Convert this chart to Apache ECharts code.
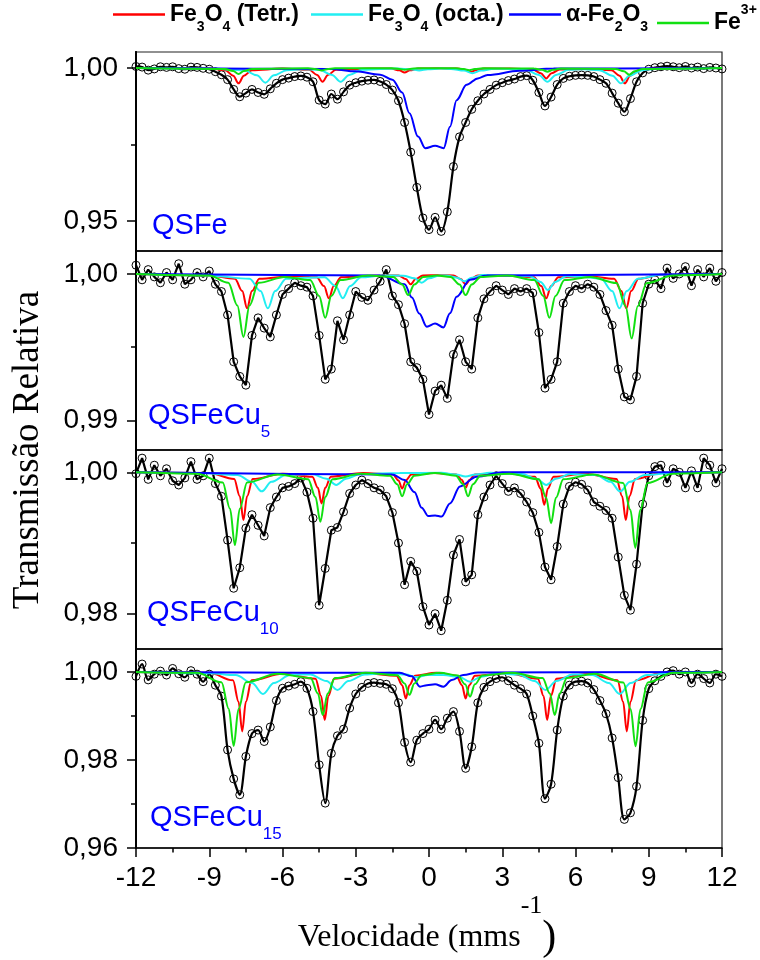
<!DOCTYPE html>
<html><head><meta charset="utf-8">
<script src="https://cdn.jsdelivr.net/npm/echarts@6/dist/echarts.min.js"></script>
<style>html,body{margin:0;padding:0;background:#fff}#c{width:760px;height:960px}</style>
</head><body><div id="c"></div>
<script>
// Velocity channels (mm/s)
const velocity = [-12,-11.75,-11.5,-11.25,-11,-10.75,-10.5,-10.25,-10,-9.75,-9.5,-9.25,
-9,-8.75,-8.5,-8.25,-8,-7.75,-7.5,-7.25,-7,-6.75,-6.5,-6.25,
-6,-5.75,-5.5,-5.25,-5,-4.75,-4.5,-4.25,-4,-3.75,-3.5,-3.25,
-3,-2.75,-2.5,-2.25,-2,-1.75,-1.5,-1.25,-1,-0.75,-0.5,-0.25,
0,0.25,0.5,0.75,1,1.25,1.5,1.75,2,2.25,2.5,2.75,
3,3.25,3.5,3.75,4,4.25,4.5,4.75,5,5.25,5.5,5.75,
6,6.25,6.5,6.75,7,7.25,7.5,7.75,8,8.25,8.5,8.75,
9,9.25,9.5,9.75,10,10.25,10.5,10.75,11,11.25,11.5,11.75,
12];

// Experimental relative transmission
const transQSFe = [1.0005,1.0003,0.9993,0.9997,1.0004,1.0002,1.0004,0.9998,0.9996,1.0003,1.0002,0.9999,
0.9996,0.9988,0.9978,0.9962,0.9930,0.9906,0.9918,0.9930,0.9920,0.9914,0.9932,0.9950,
0.9962,0.9967,0.9972,0.9974,0.9970,0.9955,0.9895,0.9882,0.9915,0.9898,0.9922,0.9944,
0.9952,0.9957,0.9960,0.9961,0.9956,0.9946,0.9928,0.9893,0.9822,0.9725,0.9610,0.9510,
0.9472,0.9512,0.9466,0.9530,0.9678,0.9775,0.9822,0.9865,0.9893,0.9915,0.9930,0.9944,
0.9952,0.9959,0.9964,0.9972,0.9975,0.9960,0.9920,0.9876,0.9905,0.9946,0.9966,0.9973,
0.9976,0.9977,0.9976,0.9972,0.9962,0.9950,0.9918,0.9885,0.9857,0.9900,0.9955,0.9984,
0.9996,1.0001,1.0004,1.0006,1.0004,1.0001,1.0005,1.0000,1.0003,0.9998,1.0002,1.0000,
0.9997];
const transQSFeCu5 = [1.0006,0.9996,1.0003,0.9998,0.9994,1.0001,0.9996,1.0007,0.9993,0.9996,1.0001,0.9998,
1.0002,0.9993,0.9988,0.9972,0.9940,0.9930,0.9924,0.9958,0.9970,0.9963,0.9957,0.9972,
0.9986,0.9990,0.9994,0.9992,0.9991,0.9985,0.9958,0.9928,0.9935,0.9968,0.9955,0.9972,
0.9988,0.9984,0.9982,0.9989,0.9995,1.0003,0.9985,0.9979,0.9966,0.9940,0.9936,0.9928,
0.9904,0.9920,0.9924,0.9915,0.9945,0.9955,0.9940,0.9935,0.9970,0.9983,0.9988,0.9992,
0.9989,0.9986,0.9990,0.9988,0.9990,0.9987,0.9960,0.9922,0.9928,0.9940,0.9980,0.9988,
0.9992,0.9990,0.9993,0.9991,0.9986,0.9975,0.9965,0.9935,0.9916,0.9914,0.9930,0.9980,
0.9993,0.9996,0.9990,1.0004,0.9997,1.0000,1.0005,0.9992,1.0003,0.9998,1.0004,0.9995,
1.0001];
const transQSFeCu10 = [0.9998,1.0020,0.9990,1.0010,0.9995,1.0005,0.9988,0.9982,0.9992,1.0015,0.9990,0.9995,
1.0020,0.9984,0.9966,0.9904,0.9836,0.9865,0.9921,0.9940,0.9925,0.9910,0.9950,0.9965,
0.9978,0.9980,0.9984,0.9992,0.9972,0.9935,0.9812,0.9864,0.9918,0.9922,0.9944,0.9970,
0.9982,0.9989,0.9984,0.9978,0.9975,0.9966,0.9943,0.9900,0.9841,0.9874,0.9860,0.9810,
0.9784,0.9800,0.9776,0.9819,0.9883,0.9905,0.9845,0.9855,0.9940,0.9965,0.9982,0.9995,
0.9984,0.9973,0.9978,0.9970,0.9958,0.9943,0.9915,0.9866,0.9848,0.9895,0.9955,0.9980,
0.9986,0.9983,0.9975,0.9958,0.9952,0.9946,0.9935,0.9880,0.9826,0.9805,0.9870,0.9955,
0.9995,1.0008,1.0010,0.9985,1.0005,1.0000,0.9978,1.0002,0.9978,1.0020,1.0010,0.9985,
1.0005];
const transQSFeCu15 = [0.9990,1.0018,0.9982,0.9995,1.0002,0.9993,1.0008,0.9996,0.9988,1.0003,0.9995,0.9978,
0.9995,0.9970,0.9945,0.9823,0.9757,0.9721,0.9808,0.9860,0.9868,0.9842,0.9875,0.9935,
0.9963,0.9968,0.9972,0.9978,0.9963,0.9910,0.9789,0.9702,0.9815,0.9855,0.9870,0.9918,
0.9950,0.9965,0.9974,0.9976,0.9974,0.9972,0.9962,0.9930,0.9840,0.9795,0.9845,0.9860,
0.9870,0.9891,0.9870,0.9895,0.9910,0.9865,0.9781,0.9830,0.9930,0.9965,0.9978,0.9985,
0.9988,0.9980,0.9970,0.9962,0.9950,0.9900,0.9838,0.9712,0.9745,0.9868,0.9945,0.9970,
0.9978,0.9979,0.9975,0.9960,0.9935,0.9905,0.9850,0.9760,0.9665,0.9680,0.9740,0.9890,
0.9962,0.9980,0.9990,1.0000,1.0003,0.9995,1.0000,0.9975,0.9995,0.9985,0.9975,0.9995,
0.9990];

// Fitted sub-spectra, [velocity, transmission]
const tetrQSFe = [[-12,1],[-9,0.9999],[-8.35,0.9993],[-8.02,0.9975],[-7.8,0.995],[-7.58,0.9975],[-7.25,0.9993],[-6,0.9998],[-4.91,0.9994],[-4.58,0.99775],[-4.36,0.9955],[-4.14,0.99775],[-3.81,0.9994],[-2.5,0.9998],[-1.55,0.9998],[-1.22,0.99925],[-1.0,0.9985],[-0.78,0.99925],[-0.45,0.9998],[0.4,0.9999],[1.17,0.9998],[1.5,0.99935],[1.72,0.9987],[1.94,0.99935],[2.27,0.9998],[3.3,0.9998],[4.25,0.9995],[4.58,0.9983],[4.8,0.9966],[5.02,0.9983],[5.35,0.9995],[6.4,0.9997],[7.47,0.9993],[7.8,0.9975],[8.02,0.995],[8.24,0.9975],[8.57,0.9993],[9.3,0.9999],[12,1]];
const octaQSFe = [[-12,1],[-9,0.9998],[-7.58,0.9993],[-7.05,0.9976],[-6.7,0.9952],[-6.35,0.9976],[-5.82,0.9993],[-5.2,0.9996],[-4.5,0.9994],[-3.97,0.99775],[-3.62,0.9955],[-3.27,0.99775],[-2.74,0.9994],[-2,0.9997],[-1.28,0.9998],[-0.75,0.9996],[-0.4,0.9992],[-0.05,0.9996],[0.48,0.9998],[0.9,0.9997],[1.43,0.99915],[1.78,0.9983],[2.13,0.99915],[2.66,0.99975],[3.3,0.9997],[3.97,0.9994],[4.5,0.99775],[4.85,0.9955],[5.2,0.99775],[5.73,0.9994],[6.35,0.9996],[6.98,0.9993],[7.51,0.9975],[7.86,0.995],[8.21,0.9975],[8.74,0.9993],[9.5,0.9998],[12,1]];
const alphaQSFe = [[-12,1],[-4,0.9997],[-3,0.9989],[-2,0.9978],[-1.5,0.9962],[-1.1,0.992],[-0.8,0.9852],[-0.45,0.9776],[-0.15,0.9738],[0.25,0.9746],[0.6,0.9738],[0.86,0.9808],[1.13,0.9895],[1.54,0.9945],[2.0,0.9966],[2.4,0.9977],[3.7,0.9991],[5.1,0.9998],[12,1]];
const fe3QSFe = [[-12,1],[-8.35,0.9997],[-8.02,0.999],[-7.8,0.998],[-7.58,0.999],[-7.25,0.9997],[-4.95,0.9999],[-4.62,0.9996],[-4.4,0.9992],[-4.18,0.9996],[-3.85,0.9999],[-1.55,0.9999],[-1.22,0.9997],[-1.0,0.9994],[-0.78,0.9997],[-0.45,0.9999],[1.1,0.9999],[1.43,0.99965],[1.65,0.9993],[1.87,0.99965],[2.2,0.9999],[4.3,0.9998],[4.63,0.9994],[4.85,0.9988],[5.07,0.9994],[5.4,0.9998],[7.65,0.9997],[7.98,0.9989],[8.2,0.9978],[8.42,0.9989],[8.75,0.9997],[12,1]];

const tetrQSFeCu5 = [[-12,1],[-9,0.9999],[-7.95,0.99967],[-7.65,0.99883],[-7.45,0.99765],[-7.25,0.99883],[-6.95,0.99967],[-5.6,0.99985],[-4.6,0.99977],[-4.3,0.99917],[-4.1,0.99834],[-3.9,0.99917],[-3.6,0.99977],[-2.2,0.99988],[-1.25,0.9999],[-0.95,0.99965],[-0.75,0.9993],[-0.55,0.99965],[-0.25,0.9999],[0.4,0.99992],[1.0,0.9999],[1.3,0.99965],[1.5,0.9993],[1.7,0.99965],[2.0,0.9999],[3.2,0.99988],[4.3,0.99977],[4.6,0.99917],[4.8,0.99834],[5.0,0.99917],[5.3,0.99977],[6.5,0.99985],[7.58,0.99967],[7.88,0.99883],[8.08,0.99765],[8.28,0.99883],[8.58,0.99967],[9.5,0.99995],[12,1]];
const octaQSFeCu5 = [[-12,1],[-9,0.9999],[-7.35,0.99967],[-6.9,0.99883],[-6.6,0.99765],[-6.3,0.99883],[-5.85,0.99967],[-5.1,0.99975],[-4.28,0.99977],[-3.83,0.99917],[-3.53,0.99834],[-3.23,0.99917],[-2.78,0.99977],[-1.9,0.9999],[-1.05,0.99988],[-0.6,0.9997],[-0.3,0.9994],[0.0,0.9997],[0.45,0.9999],[0.7,0.9999],[1.15,0.99975],[1.45,0.9995],[1.75,0.99975],[2.2,0.99993],[3.2,0.9999],[4.12,0.99985],[4.57,0.99945],[4.87,0.9989],[5.17,0.99945],[5.62,0.99985],[6.3,0.9998],[7.05,0.99967],[7.5,0.99883],[7.8,0.99765],[8.1,0.99883],[8.55,0.99967],[9.5,0.99995],[12,1]];
const alphaQSFeCu5 = [[-12,1],[-2,0.9999],[-1.0,0.9993],[-0.7,0.9984],[-0.4,0.9973],[-0.09,0.9964],[0.25,0.99662],[0.59,0.99635],[0.86,0.99731],[1.13,0.99845],[1.68,0.9996],[2.36,0.9999],[12,1]];
const fe3QSFeCu5 = [[-12,1],[-9,0.9999],[-8.22,0.9994],[-7.85,0.99785],[-7.6,0.9957],[-7.35,0.99785],[-6.98,0.9994],[-5.9,0.9998],[-4.87,0.99958],[-4.5,0.9985],[-4.25,0.997],[-4.0,0.9985],[-3.63,0.99958],[-2.5,0.9999],[-1.47,0.9998],[-1.1,0.99928],[-0.85,0.99856],[-0.6,0.99928],[-0.23,0.9998],[0.33,0.9999],[0.88,0.9998],[1.25,0.99928],[1.5,0.99856],[1.75,0.99928],[2.12,0.9998],[3.2,0.9999],[4.31,0.99958],[4.68,0.9985],[4.93,0.997],[5.18,0.9985],[5.55,0.99958],[6.6,0.9998],[7.68,0.99938],[8.05,0.9978],[8.3,0.9956],[8.55,0.9978],[8.92,0.99938],[10,0.9999],[12,1]];

const tetrQSFeCu10 = [[-12,1],[-9,0.9999],[-7.98,0.99905],[-7.75,0.99662],[-7.6,0.99325],[-7.45,0.99662],[-7.22,0.99905],[-6,0.9998],[-4.78,0.99938],[-4.55,0.9978],[-4.4,0.9956],[-4.25,0.9978],[-4.02,0.99938],[-2.7,0.9999],[-1.48,0.99968],[-1.25,0.99885],[-1.1,0.9977],[-0.95,0.99885],[-0.72,0.99968],[0.2,0.9999],[1.12,0.9997],[1.35,0.9989],[1.5,0.9978],[1.65,0.9989],[1.88,0.9997],[3.1,0.9999],[4.34,0.99936],[4.57,0.9977],[4.72,0.9954],[4.87,0.9977],[5.1,0.99936],[6.4,0.9998],[7.68,0.99905],[7.91,0.99662],[8.06,0.99325],[8.21,0.99662],[8.44,0.99905],[9.5,0.9999],[12,1]];
const octaQSFeCu10 = [[-12,1],[-9.5,0.9999],[-7.85,0.99962],[-7.25,0.99865],[-6.85,0.9973],[-6.45,0.99865],[-5.85,0.99962],[-5.3,0.9997],[-4.8,0.99975],[-4.2,0.9991],[-3.8,0.9982],[-3.4,0.9991],[-2.8,0.99975],[-1.2,0.9999],[0.5,0.99992],[1.1,0.9997],[1.5,0.9994],[1.9,0.9997],[2.5,0.99992],[3.8,0.99975],[4.4,0.9991],[4.8,0.9982],[5.2,0.9991],[5.8,0.99975],[6.3,0.9997],[6.83,0.99962],[7.43,0.99865],[7.83,0.9973],[8.23,0.99865],[8.83,0.99962],[10,0.9999],[12,1]];
const alphaQSFeCu10 = [[-12,1],[-1.5,0.9997],[-1.0,0.9989],[-0.6,0.9972],[-0.3,0.995],[-0.03,0.9938],[0.25,0.9939],[0.52,0.99375],[0.86,0.9956],[1.27,0.998],[1.95,0.99938],[3,1],[12,1]];
const fe3QSFeCu10 = [[-12,1],[-9.5,0.9998],[-8.45,0.99856],[-8.15,0.99485],[-7.95,0.9897],[-7.75,0.99485],[-7.45,0.99856],[-6.2,0.9997],[-4.95,0.99902],[-4.65,0.9965],[-4.45,0.993],[-4.25,0.9965],[-3.95,0.99902],[-2.8,0.9998],[-1.6,0.99952],[-1.3,0.9983],[-1.1,0.9966],[-0.9,0.9983],[-0.6,0.99952],[0.25,0.9999],[1.1,0.99952],[1.4,0.9983],[1.6,0.9966],[1.8,0.9983],[2.1,0.99952],[3.3,0.9998],[4.5,0.999],[4.8,0.9964],[5.0,0.9928],[5.2,0.9964],[5.5,0.999],[6.7,0.9997],[7.95,0.9985],[8.25,0.99465],[8.45,0.9893],[8.65,0.99465],[8.95,0.9985],[10,0.9998],[12,1]];

const tetrQSFeCu15 = [[-12,1],[-9,0.9998],[-8.03,0.9981],[-7.8,0.99325],[-7.65,0.9865],[-7.5,0.99325],[-7.27,0.9981],[-6,0.9996],[-4.65,0.99847],[-4.42,0.99455],[-4.27,0.9891],[-4.12,0.99455],[-3.89,0.99847],[-2.6,0.9997],[-1.33,0.99916],[-1.1,0.997],[-0.95,0.994],[-0.8,0.997],[-0.57,0.99916],[0.3,0.9998],[1.12,0.99916],[1.35,0.997],[1.5,0.994],[1.65,0.997],[1.88,0.99916],[3.2,0.9997],[4.46,0.99847],[4.69,0.99455],[4.84,0.9891],[4.99,0.99455],[5.22,0.99847],[6.5,0.9996],[7.72,0.9981],[7.95,0.99325],[8.1,0.9865],[8.25,0.99325],[8.48,0.9981],[9.5,0.9998],[12,1]];
const octaQSFeCu15 = [[-12,1],[-9,0.9997],[-7.92,0.9993],[-7.25,0.9975],[-6.8,0.995],[-6.35,0.9975],[-5.68,0.9993],[-5.3,0.9994],[-4.87,0.99943],[-4.2,0.99795],[-3.75,0.9959],[-3.3,0.99795],[-2.63,0.99943],[-1.62,0.9998],[-0.95,0.9994],[-0.5,0.9988],[-0.05,0.9993],[0.6,0.9993],[1.23,0.9989],[1.68,0.9978],[2.13,0.9989],[2.8,0.9997],[3.65,0.99943],[4.32,0.99795],[4.77,0.9959],[5.22,0.99795],[5.89,0.99943],[6.3,0.9994],[6.69,0.9993],[7.36,0.9975],[7.81,0.995],[8.26,0.9975],[8.93,0.9993],[10,0.9998],[12,1]];
const alphaQSFeCu15 = [[-12,1],[-1.2,0.9998],[-0.7,0.999],[-0.37,0.99667],[-0.09,0.997],[0.25,0.9972],[0.59,0.99667],[0.93,0.9982],[1.4,0.9993],[2.0,0.9999],[12,1]];
const fe3QSFeCu15 = [[-12,1],[-9.5,0.9998],[-8.5,0.99765],[-8.2,0.9916],[-8.0,0.9832],[-7.8,0.9916],[-7.5,0.99765],[-6.2,0.9996],[-4.85,0.99863],[-4.55,0.9951],[-4.35,0.9902],[-4.15,0.9951],[-3.85,0.99863],[-2.6,0.9998],[-1.3,0.99927],[-1.0,0.9974],[-0.8,0.9948],[-0.6,0.9974],[-0.3,0.99927],[0.45,0.9998],[1.18,0.99922],[1.48,0.9972],[1.68,0.9944],[1.88,0.9972],[2.18,0.99922],[3.4,0.9998],[4.65,0.99863],[4.95,0.9951],[5.15,0.9902],[5.35,0.9951],[5.65,0.99863],[6.8,0.9996],[7.96,0.99763],[8.26,0.99155],[8.46,0.9831],[8.66,0.99155],[8.96,0.99763],[10,0.9998],[12,1]];

// Labels and ticks
const componentNames = ['Fe3O4 (Tetr.)','Fe3O4 (octa.)','α-Fe2O3','Fe3+'];
const componentLabels = ['{m|Fe}{s|3}{m|O}{s|4}{m| (Tetr.)}','{m|Fe}{s|3}{m|O}{s|4}{m| (octa.)}','{m|α-Fe}{s|2}{m|O}{s|3}','{m|Fe}{p|3+}'];
const sampleLabels = ['{m|QSFe}','{m|QSFeCu}{s|5}','{m|QSFeCu}{s|10}','{m|QSFeCu}{s|15}'];
const yMajorTicks = [[1.00,0.95],[1.00,0.99],[1.00,0.98],[1.00,0.98,0.96]];
const yMinorTicks = [[0.975],[0.995],[0.99],[0.99,0.97]];
const xTitle = '{a|Velocidade (mms}{b|-1}{c|)}';
const yTitle = 'Transmissão Relativa';

const expData = [transQSFe, transQSFeCu5, transQSFeCu10, transQSFeCu15];
const compData = [
  [tetrQSFe, octaQSFe, alphaQSFe, fe3QSFe],
  [tetrQSFeCu5, octaQSFeCu5, alphaQSFeCu5, fe3QSFeCu5],
  [tetrQSFeCu10, octaQSFeCu10, alphaQSFeCu10, fe3QSFeCu10],
  [tetrQSFeCu15, octaQSFeCu15, alphaQSFeCu15, fe3QSFeCu15]
];

// Layout / style
const compColors = ['#ff0000','#22eef2','#0000ff','#11e011'];
const gridTops = [52, 251, 450, 649];
const gridH = 199;
const yRanges = [[0.9402,1.00523],[0.98797,1.00157],[0.97501,1.00315],[0.96,1.00522]];
const labelPos = [[152,226],[148,416],[147,613],[150,818]];
const SANS = '"Liberation Sans", Arial, sans-serif';
const SERIF = '"Liberation Serif", "Times New Roman", serif';
const fmtComma = v => v.toFixed(2).replace('.', ',');

const grids = gridTops.map(t => ({left:136, right:38, top:t, height:gridH, show:true, borderColor:'#222', borderWidth:1.2, outerBoundsMode:'none', containLabel:false}));

const xAxes = gridTops.map((t,i) => {
  const bottom = i === 3;
  return {
    type:'value', gridIndex:i, min:-12, max:12, interval:3,
    axisLine:{show:true, onZero:false, lineStyle:{color:'#000', width:1.5}},
    axisTick:{show:bottom, length:9, inside:false, lineStyle:{color:'#000', width:1.5}},
    minorTick:{show:bottom, splitNumber:2, length:4.5, lineStyle:{color:'#000', width:1.5}},
    axisLabel:{show:bottom, fontSize:28, fontFamily:SANS, color:'#000', margin:16, showMinLabel:true, showMaxLabel:true},
    splitLine:{show:false}, minorSplitLine:{show:false}
  };
});

const yAxes = [];
gridTops.forEach((t,i) => {
  yAxes.push({
    type:'value', gridIndex:i, position:'left', min:yRanges[i][0], max:yRanges[i][1],
    axisLine:{show:true, onZero:false, lineStyle:{color:'#000', width:1.8}},
    axisTick:{show:true, length:9, inside:false, customValues:yMajorTicks[i], lineStyle:{color:'#000', width:1.5}},
    axisLabel:{show:true, customValues:yMajorTicks[i], formatter:fmtComma, fontSize:28, fontFamily:SANS, color:'#000', margin:18},
    splitLine:{show:false}
  });
  yAxes.push({
    type:'value', gridIndex:i, position:'left', offset:0, min:yRanges[i][0], max:yRanges[i][1],
    axisLine:{show:true, onZero:false, lineStyle:{color:'#000', width:1.8}},
    axisTick:{show:true, length:5, inside:false, customValues:yMinorTicks[i], lineStyle:{color:'#000', width:1.5}},
    axisLabel:{show:false},
    splitLine:{show:false}
  });
});

const series = [];
expData.forEach((arr,i) => {
  series.push({
    type:'line', name:'exp'+i, xAxisIndex:i, yAxisIndex:2*i,
    data: velocity.map((v,k) => [v, arr[k]]),
    symbol:'circle', symbolSize:8, showSymbol:true,
    smooth: (i===0 || i===3) ? 0.3 : false,
    itemStyle:{color:'rgba(0,0,0,0)', borderColor:'#000', borderWidth:1},
    lineStyle:{color:'#000', width:2.2},
    z:2
  });
});
compData.forEach((comps,i) => {
  comps.forEach((pts,j) => {
    series.push({
      type:'line', name:componentNames[j], xAxisIndex:i, yAxisIndex:2*i,
      data: pts, symbol:'none', smooth:0.35, smoothMonotone:'x',
      color: compColors[j],
      lineStyle:{color:compColors[j], width:2},
      z:3
    });
  });
});

const legendLeft = [113, 311, 509, 657];
const legends = componentNames.map((n,j) => ({
  left: legendLeft[j], top: 3, padding: 0, orient:'horizontal',
  data:[{name:n, icon:'rect'}], selectedMode:false, itemWidth:52, itemHeight:2.5,
  itemStyle:{color:compColors[j], borderWidth:0},
  formatter: () => componentLabels[j],
  textStyle:{color:'#000', fontFamily:SANS, fontWeight:'bold', fontSize:23,
    rich:{
      m:{fontSize:23, fontWeight:'bold', fontFamily:SANS, lineHeight:40},
      s:{fontSize:14, fontWeight:'bold', fontFamily:SANS, lineHeight:14, verticalAlign:'bottom'},
      p:{fontSize:14, fontWeight:'bold', fontFamily:SANS, lineHeight:14, verticalAlign:'top'}
    }}
}));

const graphics = sampleLabels.map((txt,i) => ({
  type:'text', x:labelPos[i][0], y:labelPos[i][1], z:10,
  style:{text:txt, fill:'#0000ff', fontSize:29, fontFamily:SANS, align:'left', verticalAlign:'middle',
    rich:{m:{fontSize:29, fontFamily:SANS, lineHeight:50, fill:'#0000ff'},
          s:{fontSize:17, fontFamily:SANS, lineHeight:17, verticalAlign:'bottom', fill:'#0000ff'}}}
}));
graphics.push({
  type:'text', x:28, y:450, rotation:Math.PI/2, z:10,
  style:{text:yTitle, fill:'#000', fontSize:37, fontFamily:SERIF, align:'center', verticalAlign:'middle'}
});
graphics.push({
  type:'text', x:427, y:938, z:10,
  style:{text:xTitle, fill:'#000', fontSize:32, fontFamily:SERIF, align:'center', verticalAlign:'middle',
    rich:{a:{fontSize:32, fontFamily:SERIF, lineHeight:90, fill:'#000'},
          b:{fontSize:26, fontFamily:SERIF, lineHeight:26, verticalAlign:'top', fill:'#000'},
          c:{fontSize:42, fontFamily:SERIF, lineHeight:90, fill:'#000'}}}
});

const chart = echarts.init(document.getElementById('c'), null, {renderer:'canvas'});
chart.setOption({
  animation:false,
  backgroundColor:'#fff',
  textStyle:{fontFamily:SANS},
  grid: grids,
  xAxis: xAxes,
  yAxis: yAxes,
  legend: legends,
  series: series,
  graphic: graphics
});
</script>
</body></html>
